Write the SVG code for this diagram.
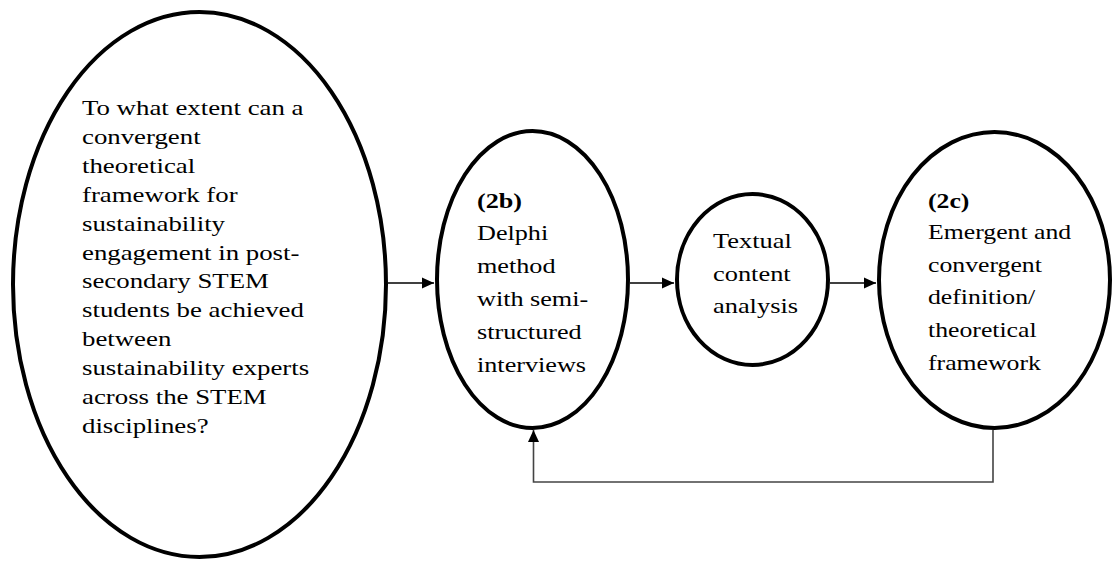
<svg xmlns="http://www.w3.org/2000/svg" width="1112" height="563" viewBox="0 0 1112 563">
  <style>
    .node { fill: #fff; stroke: #000; stroke-width: 4; }
    .lbl { font-family: "Liberation Serif", "Times New Roman", serif; font-size: 22px; fill: #000; }
    .bold { font-weight: bold; }
    .link { fill: none; stroke: #000; stroke-width: 1.5; }
    .back { fill: none; stroke: #444; stroke-width: 1.6; }
  </style>
  <defs>
    <marker id="arrow" markerUnits="userSpaceOnUse" markerWidth="12" markerHeight="12" viewBox="0 0 12 12" refX="12" refY="6" orient="auto">
      <path d="M0,0.5 L12,6 L0,11.5 Z" fill="#000"/>
    </marker>
  </defs>

  <!-- research question -->
  <g id="question">
    <ellipse class="node" cx="199.5" cy="284.5" rx="186.5" ry="272.5"/>
    <g transform="translate(82,0) scale(1.22,1)">
      <text class="lbl" x="0" y="115">To what extent can a</text>
      <text class="lbl" x="0" y="144">convergent</text>
      <text class="lbl" x="0" y="173">theoretical</text>
      <text class="lbl" x="0" y="202">framework for</text>
      <text class="lbl" x="0" y="231">sustainability</text>
      <text class="lbl" x="0" y="260">engagement in post-</text>
      <text class="lbl" x="0" y="288">secondary STEM</text>
      <text class="lbl" x="0" y="317">students be achieved</text>
      <text class="lbl" x="0" y="346">between</text>
      <text class="lbl" x="0" y="375">sustainability experts</text>
      <text class="lbl" x="0" y="404">across the STEM</text>
      <text class="lbl" x="0" y="433">disciplines?</text>
    </g>
  </g>

  <!-- step 2b -->
  <g id="delphi">
    <ellipse class="node" cx="532.5" cy="279.5" rx="95.5" ry="148.5"/>
    <g transform="translate(477,0) scale(1.19,1)">
      <text class="lbl bold" x="0" y="208">(2b)</text>
      <text class="lbl" x="0" y="240">Delphi</text>
      <text class="lbl" x="0" y="273">method</text>
      <text class="lbl" x="0" y="306">with semi-</text>
      <text class="lbl" x="0" y="339">structured</text>
      <text class="lbl" x="0" y="372">interviews</text>
    </g>
  </g>

  <!-- analysis -->
  <g id="analysis">
    <ellipse class="node" cx="752.5" cy="279.5" rx="75.5" ry="85.5"/>
    <g transform="translate(713,0) scale(1.2,1)">
      <text class="lbl" x="0" y="248">Textual</text>
      <text class="lbl" x="0" y="281">content</text>
      <text class="lbl" x="0" y="313">analysis</text>
    </g>
  </g>

  <!-- step 2c -->
  <g id="framework">
    <ellipse class="node" cx="994.5" cy="280" rx="115.5" ry="148"/>
    <g transform="translate(928,0) scale(1.17,1)">
      <text class="lbl bold" x="0" y="208">(2c)</text>
      <text class="lbl" x="0" y="239">Emergent and</text>
      <text class="lbl" x="0" y="272">convergent</text>
      <text class="lbl" x="0" y="304">definition/</text>
      <text class="lbl" x="0" y="337">theoretical</text>
      <text class="lbl" x="0" y="370">framework</text>
    </g>
  </g>

  <!-- connectors -->
  <g id="connectors">
    <line class="link" x1="388" y1="283" x2="434" y2="283" marker-end="url(#arrow)"/>
    <line class="link" x1="630" y1="283" x2="674" y2="283" marker-end="url(#arrow)"/>
    <line class="link" x1="830" y1="283" x2="876" y2="283" marker-end="url(#arrow)"/>
    <polyline class="back" points="993,430 993,482 533.5,482 533.5,430" marker-end="url(#arrow)"/>
  </g>
</svg>
